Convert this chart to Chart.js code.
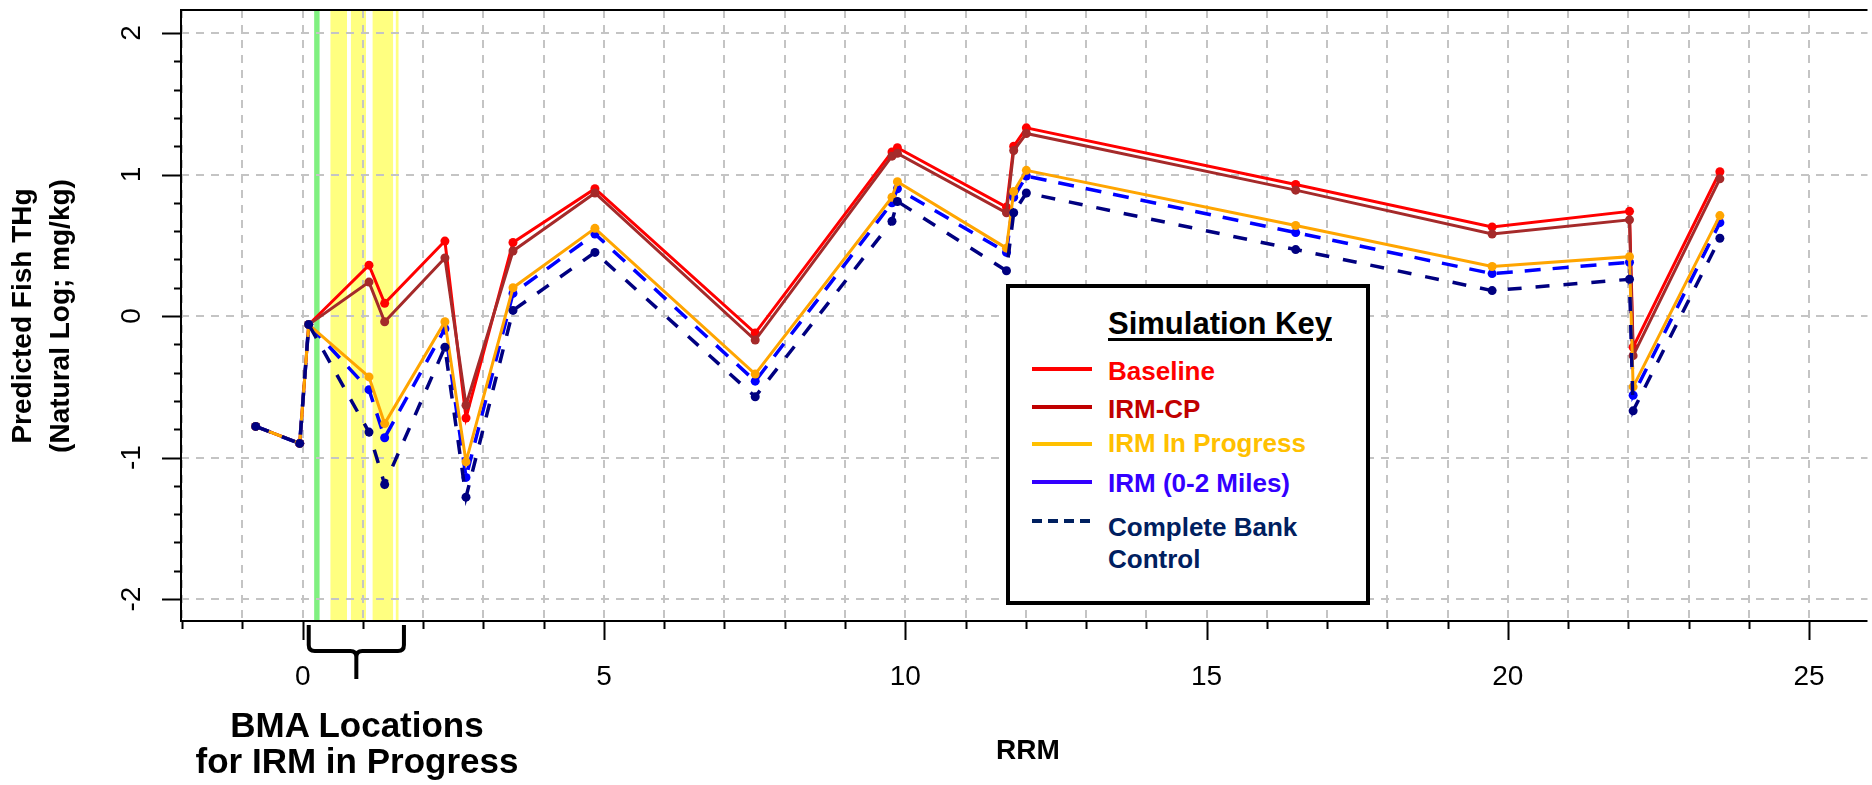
<!DOCTYPE html>
<html>
<head>
<meta charset="utf-8">
<script src="https://cdn.jsdelivr.net/npm/chart.js@4.4.1/dist/chart.umd.min.js"></script>
<style>
  html, body { margin: 0; padding: 0; background: #fff; }
  #wrap { position: relative; width: 1872px; height: 785px; font-family: "Liberation Sans", Arial, sans-serif; }
  #chart { position: absolute; left: 0; top: 0; }
  .lbl { position: absolute; white-space: nowrap; font-weight: bold; color: #000; }
  .ytitle { font-size: 28px; transform: translate(-50%, -50%) rotate(-90deg); }
  #key { position: absolute; left: 1006px; top: 284px; width: 364px; height: 321px; box-sizing: border-box;
         border: 4.5px solid #000; background: #fff; }
  .keytxt { position: absolute; left: 98px; font-size: 26px; font-weight: bold; white-space: nowrap; line-height: 26px; }
</style>
</head>
<body>
<div id="wrap">
  <canvas id="chart" width="1872" height="785"></canvas>

  <div class="lbl ytitle" style="left:22px; top:316px;">Predicted Fish THg</div>
  <div class="lbl ytitle" style="left:60px; top:316px;">(Natural Log; mg/kg)</div>
  <div class="lbl" style="left:1028px; top:734px; font-size:28px; transform:translateX(-50%);">RRM</div>
  <div class="lbl" style="left:357px; top:707px; font-size:35px; line-height:36px; text-align:center; transform:translateX(-50%);">BMA Locations<br>for IRM in Progress</div>

  <div id="key">
    <div class="keytxt" style="top:20px; font-size:31px; line-height:31px; text-decoration:underline; text-decoration-thickness:3px; text-underline-offset:4px;">Simulation Key</div>
    <svg width="360" height="320" style="position:absolute; left:-4.5px; top:-4.5px;">
      <line x1="26" x2="86" y1="85" y2="85" stroke="#ff0000" stroke-width="4"/>
      <line x1="26" x2="86" y1="123" y2="123" stroke="#c00000" stroke-width="4"/>
      <line x1="26" x2="86" y1="160" y2="160" stroke="#ffc000" stroke-width="4"/>
      <line x1="26" x2="86" y1="198" y2="198" stroke="#3300ff" stroke-width="4"/>
      <line x1="26" x2="86" y1="237" y2="237" stroke="#002060" stroke-width="4" stroke-dasharray="10 6"/>
    </svg>
    <div class="keytxt" style="top:70px; color:#ff0000;">Baseline</div>
    <div class="keytxt" style="top:108px; color:#c00000;">IRM-CP</div>
    <div class="keytxt" style="top:142px; color:#ffc000;">IRM In Progress</div>
    <div class="keytxt" style="top:182px; color:#3300ff;">IRM (0-2 Miles)</div>
    <div class="keytxt" style="top:223px; color:#002060; line-height:32px;">Complete Bank<br>Control</div>
  </div>
</div>

<script>
// river mile of each sampling station
const rrm = [-0.78, -0.05, 0.10, 1.10, 1.36, 2.36, 2.71, 3.49, 4.85, 7.51,
             9.78, 9.87, 11.68, 11.80, 12.01, 16.48, 19.74, 22.02, 22.08, 23.52];

// predicted ln(THg) per simulation
const baseline      = [-0.78, -0.90, -0.06, 0.36, 0.09, 0.53, -0.72, 0.52, 0.90, -0.12,
                       1.16, 1.19, 0.77, 1.20, 1.33, 0.93, 0.63, 0.74, -0.22, 1.02];
const irmCp         = [-0.78, -0.90, -0.06, 0.24, -0.04, 0.41, -0.63, 0.46, 0.87, -0.17,
                       1.13, 1.15, 0.73, 1.17, 1.29, 0.89, 0.58, 0.68, -0.28, 0.97];
const irmInProgress = [-0.78, -0.90, -0.06, -0.43, -0.76, -0.04, -1.03, 0.20, 0.62, -0.41,
                       0.84, 0.95, 0.48, 0.88, 1.03, 0.64, 0.35, 0.42, -0.50, 0.71];
const irm0to2       = [-0.78, -0.90, -0.06, -0.52, -0.86, -0.09, -1.14, 0.16, 0.58, -0.46,
                       0.80, 0.90, 0.45, 0.84, 0.99, 0.59, 0.30, 0.38, -0.56, 0.66];
const completeBank  = [-0.78, -0.90, -0.06, -0.82, -1.19, -0.22, -1.28, 0.04, 0.45, -0.57,
                       0.67, 0.81, 0.32, 0.73, 0.87, 0.47, 0.18, 0.26, -0.67, 0.55];

// axis labels
const xTickLabels = [0, 5, 10, 15, 20, 25];
const yTickLabels = [-2, -1, 0, 1, 2];

// shaded reaches (RRM from / to)
const greenReach = [0.19, 0.28];
const bmaReaches = [[0.46, 0.735], [0.80, 1.05], [1.16, 1.50], [1.545, 1.59]];
const braceSpan = [0.10, 1.68];

const pts = vals => rrm.map((x, i) => ({ x: x, y: vals[i] }));

function series(label, vals, color, width, dash, order) {
  return {
    label: label,
    data: pts(vals),
    borderColor: color,
    backgroundColor: color,
    borderWidth: width,
    borderDash: dash,
    pointRadius: 4.5,
    pointBorderWidth: 0,
    showLine: true,
    fill: false,
    tension: 0,
    order: order
  };
}

const decor = {
  id: 'decor',
  beforeDraw(chart) {
    const ctx = chart.ctx, ca = chart.chartArea, xs = chart.scales.x;
    ctx.save();
    ctx.fillStyle = '#ffff80';
    bmaReaches.forEach(r => {
      const a = xs.getPixelForValue(r[0]), b = xs.getPixelForValue(r[1]);
      ctx.fillRect(a, ca.top, b - a, ca.bottom - ca.top);
    });
    ctx.fillStyle = '#80f080';
    const g0 = xs.getPixelForValue(greenReach[0]), g1 = xs.getPixelForValue(greenReach[1]);
    ctx.fillRect(g0, ca.top, g1 - g0, ca.bottom - ca.top);
    ctx.restore();
  },
  afterDraw(chart) {
    const ctx = chart.ctx, ca = chart.chartArea, xs = chart.scales.x, ys = chart.scales.y;
    ctx.save();
    ctx.strokeStyle = '#000';
    ctx.lineWidth = 2;
    // box (right edge runs off the canvas)
    ctx.beginPath();
    ctx.moveTo(ca.right, ca.top);
    ctx.lineTo(ca.left, ca.top);
    ctx.lineTo(ca.left, ca.bottom);
    ctx.lineTo(ca.right, ca.bottom);
    ctx.stroke();

    // x ticks: minor every mile, major every 5
    ctx.beginPath();
    for (let v = -2; v <= 25; v++) {
      const px = Math.round(xs.getPixelForValue(v)) + 0.5;
      ctx.moveTo(px, ca.bottom);
      ctx.lineTo(px, ca.bottom + (v % 5 === 0 ? 19 : 8));
    }
    // y ticks: minor every 0.2, major every 1
    for (let k = -10; k <= 10; k++) {
      const py = Math.round(ys.getPixelForValue(k / 5)) + 0.5;
      ctx.moveTo(ca.left, py);
      ctx.lineTo(ca.left - (k % 5 === 0 ? 19 : 7), py);
    }
    ctx.stroke();

    ctx.fillStyle = '#000';
    ctx.font = '28px "Liberation Sans", Arial, sans-serif';
    ctx.textAlign = 'center';
    ctx.textBaseline = 'middle';
    xTickLabels.forEach(v => ctx.fillText(String(v), xs.getPixelForValue(v), 677));
    yTickLabels.forEach(v => {
      ctx.save();
      ctx.translate(132, ys.getPixelForValue(v));
      ctx.rotate(-Math.PI / 2);
      ctx.fillText(String(v), 0, 0);
      ctx.restore();
    });

    // brace under the BMA reaches
    const l = xs.getPixelForValue(braceSpan[0]), r = xs.getPixelForValue(braceSpan[1]);
    const c = (l + r) / 2, y0 = ca.bottom + 4, y1 = ca.bottom + 30, y2 = ca.bottom + 58, rad = 6;
    ctx.lineWidth = 4;
    ctx.beginPath();
    ctx.moveTo(l, y0);
    ctx.lineTo(l, y1 - rad);
    ctx.quadraticCurveTo(l, y1, l + rad, y1);
    ctx.lineTo(c - rad, y1);
    ctx.quadraticCurveTo(c, y1, c, y1 + rad);
    ctx.lineTo(c, y2);
    ctx.moveTo(c, y1 + rad);
    ctx.quadraticCurveTo(c, y1, c + rad, y1);
    ctx.lineTo(r - rad, y1);
    ctx.quadraticCurveTo(r, y1, r, y1 - rad);
    ctx.lineTo(r, y0);
    ctx.stroke();
    ctx.restore();
  }
};

const gridStyle = { color: '#c4c4c4', lineWidth: 2, drawTicks: false };

new Chart(document.getElementById('chart'), {
  type: 'scatter',
  data: {
    datasets: [
      series('Baseline', baseline, '#ff0000', 3, [], 4),
      series('IRM-CP', irmCp, '#a52a2a', 3, [], 3),
      series('IRM In Progress', irmInProgress, '#ffa500', 3, [], 1),
      series('IRM (0-2 Miles)', irm0to2, '#0000ff', 3.5, [16, 12], 2),
      series('Complete Bank Control', completeBank, '#000080', 3.5, [14, 14], 0)
    ]
  },
  options: {
    responsive: false,
    animation: false,
    layout: { padding: { left: 181, top: 10, right: 0, bottom: 164 } },
    plugins: { legend: { display: false }, tooltip: { enabled: false } },
    scales: {
      x: {
        type: 'linear', min: -2.02, max: 25.97,
        ticks: { display: false },
        grid: gridStyle,
        border: { display: false, dash: [8, 7] },
        afterBuildTicks: s => { s.ticks = []; for (let v = -2; v <= 25; v++) s.ticks.push({ value: v }); }
      },
      y: {
        type: 'linear', min: -2.155, max: 2.163,
        ticks: { display: false },
        grid: gridStyle,
        border: { display: false, dash: [8, 7] },
        afterBuildTicks: s => { s.ticks = yTickLabels.map(v => ({ value: v })); }
      }
    }
  },
  plugins: [decor]
});
</script>
</body>
</html>
